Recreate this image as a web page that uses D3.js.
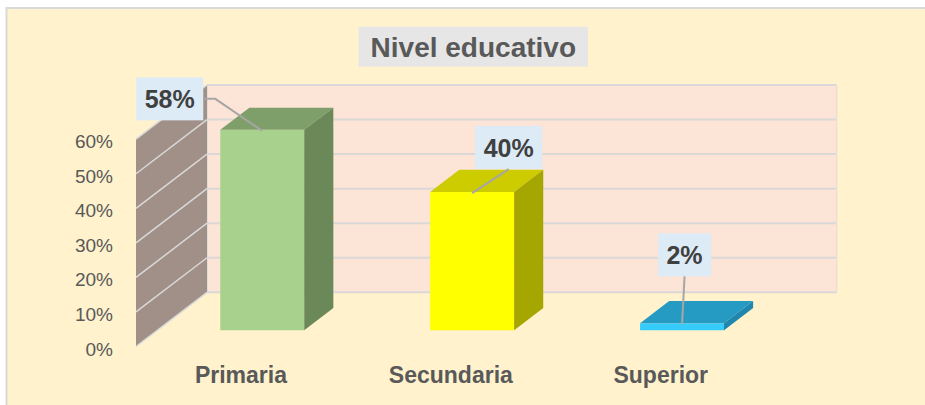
<!DOCTYPE html>
<html>
<head>
<meta charset="utf-8">
<script src="https://cdn.jsdelivr.net/npm/d3@7"></script>
<style>
  body { margin: 0; background: #ffffff; overflow: hidden; }
  svg { display: block; }
</style>
</head>
<body>
<svg id="chart" width="925" height="405"></svg>
<script>
const categories = ['Primaria', 'Secundaria', 'Superior'];
const values = [0.58, 0.40, 0.02];
const valueLabels = ['58%', '40%', '2%'];
const tickValues = [0, 0.1, 0.2, 0.3, 0.4, 0.5, 0.6];

const frontColors = ['#a9d18e', '#ffff00', '#35cbfb'];
const topColors = ['#7e9f6a', '#cccc00', '#259bc4'];
const sideColors = ['#6b8858', '#a6a600', '#1f86ad'];

// where each data label sits, relative to the top front edge of its bar
const labelOffsets = [[-92.5, -31], [36.5, -44.5], [2.5, -68.5]];
const leaderFrom = ['side', 'bottom', 'bottom'];

const svg = d3.select('#chart');

// depth of the 3d box: how far the back wall is shifted from the front plane
const depthX = 71;
const depthY = 54.2;
const barFront = 0.3;
const barBack = 0.71;

const x = d3.scaleBand().domain(categories).range([136, 765.7]).paddingInner(0.6).paddingOuter(0.3);
const y = d3.scaleLinear().domain([0, 0.6]).range([346.5, 139.2]);

function px(xv, d) { return xv + d * depthX; }
function py(v, d) { return y(v) - d * depthY; }
function pts(list) { return list.map(p => p.join(',')).join(' '); }

// chart area
svg.append('rect').attr('x', 6.5).attr('y', 8).attr('width', 940).attr('height', 420)
  .attr('fill', '#fff2cc').attr('stroke', '#d9d9d9').attr('stroke-width', 2);

// title
const titleG = svg.append('g');
const titleTxt = titleG.append('text').text('Nivel educativo')
  .attr('x', 473.3).attr('y', 57.3).attr('text-anchor', 'middle')
  .style('font-family', '"Liberation Sans", Arial, sans-serif').style('font-weight', 'bold')
  .style('font-size', '28px').attr('fill', '#595959');
const tw = titleTxt.node().getComputedTextLength();
titleG.insert('rect', 'text').attr('x', 473.3 - tw / 2 - 12).attr('y', 26.7)
  .attr('width', tw + 24).attr('height', 40).attr('fill', '#e6e6e6');

// back wall
const r0 = x.range();
svg.append('rect').attr('x', px(r0[0], 1)).attr('y', py(0.6, 1))
  .attr('width', r0[1] - r0[0]).attr('height', py(0, 1) - py(0.6, 1))
  .attr('fill', '#fce4d6');
svg.append('line').attr('x1', px(r0[0], 1)).attr('x2', px(r0[0], 1))
  .attr('y1', py(0.6, 1)).attr('y2', py(0, 1))
  .attr('stroke', '#e2dcd8').attr('stroke-width', 2);
svg.selectAll('.backgrid').data(tickValues).enter().append('line').attr('class', 'backgrid')
  .attr('x1', px(r0[0], 1)).attr('x2', px(r0[1], 1))
  .attr('y1', d => py(d, 1)).attr('y2', d => py(d, 1))
  .attr('stroke', '#dcd8d8').attr('stroke-width', 2);
svg.append('line').attr('x1', px(r0[1], 1)).attr('x2', px(r0[1], 1))
  .attr('y1', py(0.6, 1)).attr('y2', py(0, 1))
  .attr('stroke', '#ece0d6').attr('stroke-width', 1.5);

// left wall
svg.append('polygon')
  .attr('points', pts([[r0[0], y(0)], [px(r0[0], 1), py(0, 1)], [px(r0[0], 1), py(0.6, 1)], [r0[0], y(0.6)]]))
  .attr('fill', '#a19088');
svg.selectAll('.sidegrid').data(tickValues).enter().append('line').attr('class', 'sidegrid')
  .attr('x1', r0[0]).attr('x2', px(r0[0], 1))
  .attr('y1', d => y(d)).attr('y2', d => py(d, 1))
  .attr('stroke', '#d9d9d9').attr('stroke-width', 1.5);

// value axis
const axis = d3.axisLeft(y).tickValues(tickValues).tickFormat(d3.format('.0%')).tickSize(0).tickPadding(0);
const axisG = svg.append('g').attr('transform', 'translate(113,2.5)').call(axis);
axisG.select('.domain').remove();
axisG.selectAll('text').attr('fill', '#595959')
  .style('font-family', '"Liberation Sans", Arial, sans-serif').style('font-size', '19px');

// bars
const bw = x.bandwidth();
categories.forEach(function(c, i) {
  const x0 = x(c);
  const x1 = x0 + bw;
  const v = values[i];
  const g = svg.append('g').attr('class', 'bar');
  g.append('rect').attr('x', px(x0, barFront)).attr('y', py(v, barFront))
    .attr('width', bw).attr('height', py(0, barFront) - py(v, barFront))
    .attr('fill', frontColors[i]);
  g.append('polygon')
    .attr('points', pts([[px(x0, barFront), py(v, barFront)], [px(x1, barFront), py(v, barFront)],
      [px(x1, barBack), py(v, barBack)], [px(x0, barBack), py(v, barBack)]]))
    .attr('fill', topColors[i]);
  g.append('polygon')
    .attr('points', pts([[px(x1, barFront), py(v, barFront)], [px(x1, barBack), py(v, barBack)],
      [px(x1, barBack), py(0, barBack)], [px(x1, barFront), py(0, barFront)]]))
    .attr('fill', sideColors[i]);
});

// category labels
svg.selectAll('.cat').data(categories).enter().append('text').attr('class', 'cat')
  .text(d => d)
  .attr('x', d => x(d) + bw / 2).attr('y', 383).attr('text-anchor', 'middle')
  .attr('fill', '#595959')
  .style('font-family', '"Liberation Sans", Arial, sans-serif').style('font-weight', 'bold')
  .style('font-size', '23px');

// data labels with leader lines
categories.forEach(function(c, i) {
  const ax = px(x(c) + bw / 2, barFront);
  const ay = py(values[i], barFront);
  const cx = ax + labelOffsets[i][0];
  const cy = ay + labelOffsets[i][1];
  const g = svg.append('g').attr('class', 'label');
  const t = g.append('text').text(valueLabels[i])
    .attr('x', cx).attr('y', cy + 9).attr('text-anchor', 'middle')
    .attr('fill', '#404040')
    .style('font-family', '"Liberation Sans", Arial, sans-serif').style('font-weight', 'bold')
    .style('font-size', '25px');
  const w = t.node().getComputedTextLength() + 17;
  const h = 43;
  g.insert('rect', 'text').attr('x', cx - w / 2).attr('y', cy - h / 2)
    .attr('width', w).attr('height', h).attr('fill', '#ddebf7');
  let line;
  if (leaderFrom[i] === 'side') {
    line = [[cx + w / 2, cy], [cx + w / 2 + 12, cy], [ax, ay + 1]];
  } else {
    line = [[cx, cy + h / 2], [ax, ay + 1]];
  }
  svg.append('polyline').attr('points', pts(line)).attr('fill', 'none')
    .attr('stroke', '#a6a6a6').attr('stroke-width', 2);
});
</script>
</body>
</html>
